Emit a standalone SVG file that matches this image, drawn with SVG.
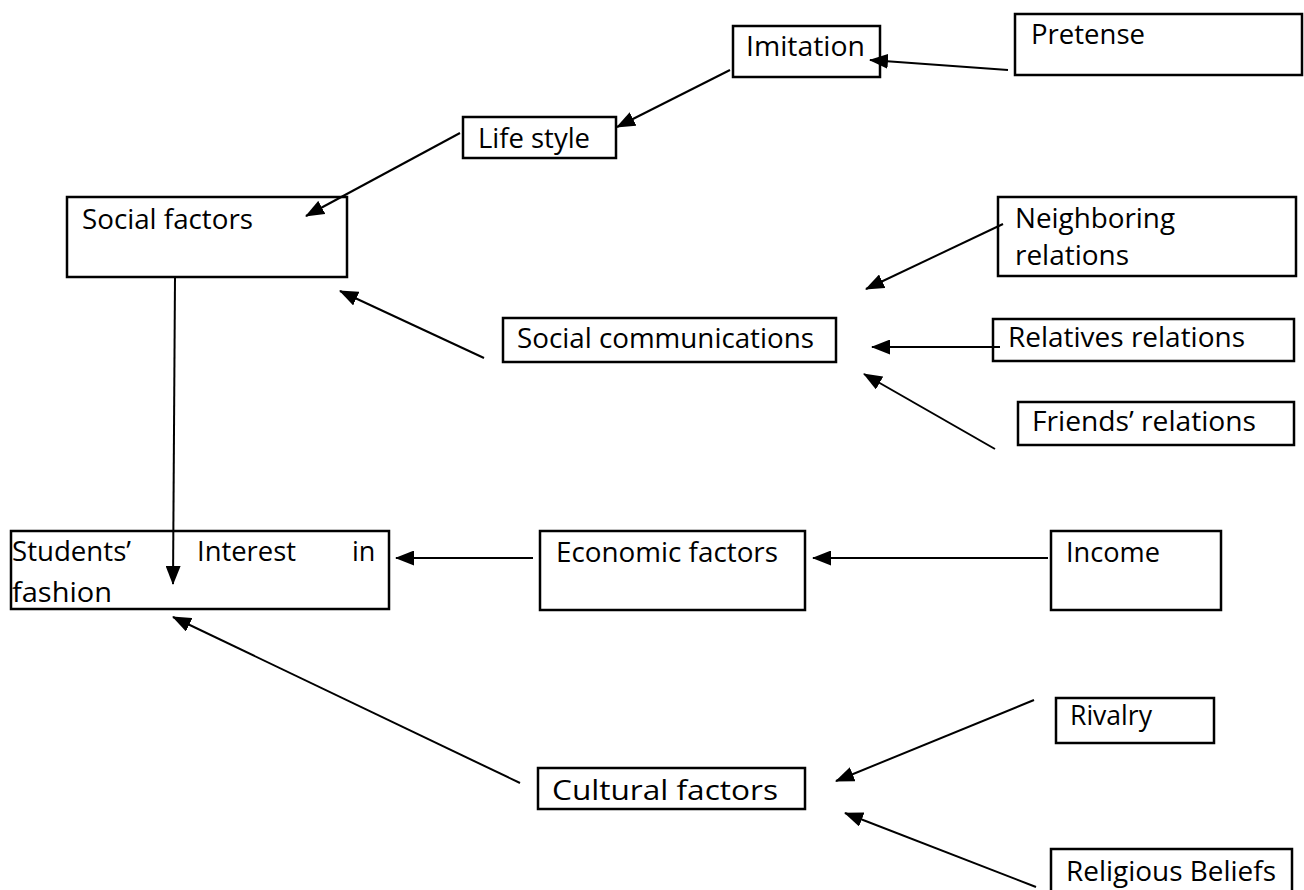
<svg xmlns="http://www.w3.org/2000/svg" width="1304" height="890" viewBox="0 0 1304 890">
<style>
.box{fill:#fff;stroke:#000;stroke-width:2.5}
.t{font-family:"Open Sans","Noto Sans","Liberation Sans",sans-serif;font-size:27px;fill:#000}
.c{stroke:#000;stroke-width:2;fill:none;marker-end:url(#ah)}
</style>
<defs>
<marker id="ah" markerUnits="userSpaceOnUse" markerWidth="19" markerHeight="15" refX="18" refY="7.5" orient="auto">
<path d="M0,0 L19,7.5 L0,15 Z" fill="#000"/>
</marker>
</defs>
<rect width="1304" height="890" fill="#fff"/>
<g id="imitation"><rect class="box" x="733" y="26" width="147" height="51"/><text class="t" x="746" y="56" textLength="119" lengthAdjust="spacingAndGlyphs">Imitation</text></g>
<g id="pretense"><rect class="box" x="1015" y="14" width="287" height="61"/><text class="t" x="1031" y="44" textLength="114" lengthAdjust="spacingAndGlyphs">Pretense</text></g>
<g id="lifestyle"><rect class="box" x="463" y="117" width="153" height="41"/><text class="t" x="478" y="148" textLength="112" lengthAdjust="spacingAndGlyphs">Life style</text></g>
<g id="social-factors"><rect class="box" x="67" y="197" width="280" height="80"/><text class="t" x="82" y="229" textLength="171" lengthAdjust="spacingAndGlyphs">Social factors</text></g>
<g id="neighboring"><rect class="box" x="998" y="197" width="298" height="79"/><text class="t" x="1015" y="228" textLength="160" lengthAdjust="spacingAndGlyphs">Neighboring</text><text class="t" x="1015" y="265" textLength="114" lengthAdjust="spacingAndGlyphs">relations</text></g>
<g id="social-comm"><rect class="box" x="503" y="318" width="333" height="44"/><text class="t" x="517" y="348" textLength="297" lengthAdjust="spacingAndGlyphs">Social communications</text></g>
<g id="relatives"><rect class="box" x="993" y="319" width="301" height="42"/><text class="t" x="1008" y="347" textLength="237" lengthAdjust="spacingAndGlyphs">Relatives relations</text></g>
<g id="friends"><rect class="box" x="1018" y="402" width="276" height="43"/><text class="t" x="1032" y="431" textLength="224" lengthAdjust="spacingAndGlyphs">Friends’ relations</text></g>
<g id="students"><rect class="box" x="11" y="531" width="378" height="78"/><text class="t" x="12" y="561" textLength="119" lengthAdjust="spacingAndGlyphs">Students’</text><text class="t" x="197" y="561" textLength="99" lengthAdjust="spacingAndGlyphs">Interest</text><text class="t" x="352" y="561">in</text><text class="t" x="12" y="602" textLength="100" lengthAdjust="spacingAndGlyphs">fashion</text></g>
<g id="economic"><rect class="box" x="540" y="531" width="265" height="79"/><text class="t" x="556" y="562" textLength="222" lengthAdjust="spacingAndGlyphs">Economic factors</text></g>
<g id="income"><rect class="box" x="1051" y="531" width="170" height="79"/><text class="t" x="1066" y="562" textLength="94" lengthAdjust="spacingAndGlyphs">Income</text></g>
<g id="rivalry"><rect class="box" x="1056" y="698" width="158" height="45"/><text class="t" x="1070" y="725" textLength="82" lengthAdjust="spacingAndGlyphs">Rivalry</text></g>
<g id="cultural"><rect class="box" x="538" y="768" width="267" height="41"/><text class="t" x="552" y="800" textLength="226" lengthAdjust="spacingAndGlyphs">Cultural factors</text></g>
<g id="religious"><rect class="box" x="1051" y="849" width="241" height="45"/><text class="t" x="1066" y="881" textLength="210" lengthAdjust="spacingAndGlyphs">Religious Beliefs</text></g>
<g id="connectors">
<line class="c" x1="1008" y1="70" x2="870" y2="60"/>
<line class="c" x1="730" y1="70" x2="617" y2="127"/>
<line class="c" x1="460" y1="133" x2="306" y2="216"/>
<line class="c" x1="484" y1="358" x2="340" y2="291"/>
<line class="c" x1="175" y1="277" x2="173" y2="584"/>
<line class="c" x1="1003" y1="224" x2="866" y2="289"/>
<line class="c" x1="1000" y1="347" x2="872" y2="347"/>
<line class="c" x1="995" y1="449" x2="864" y2="374"/>
<line class="c" x1="533" y1="558" x2="396" y2="558"/>
<line class="c" x1="1048" y1="558" x2="813" y2="558"/>
<line class="c" x1="520" y1="783" x2="173" y2="617"/>
<line class="c" x1="1034" y1="700" x2="836" y2="781"/>
<line class="c" x1="1036" y1="887" x2="845" y2="813"/>
</g>
</svg>
